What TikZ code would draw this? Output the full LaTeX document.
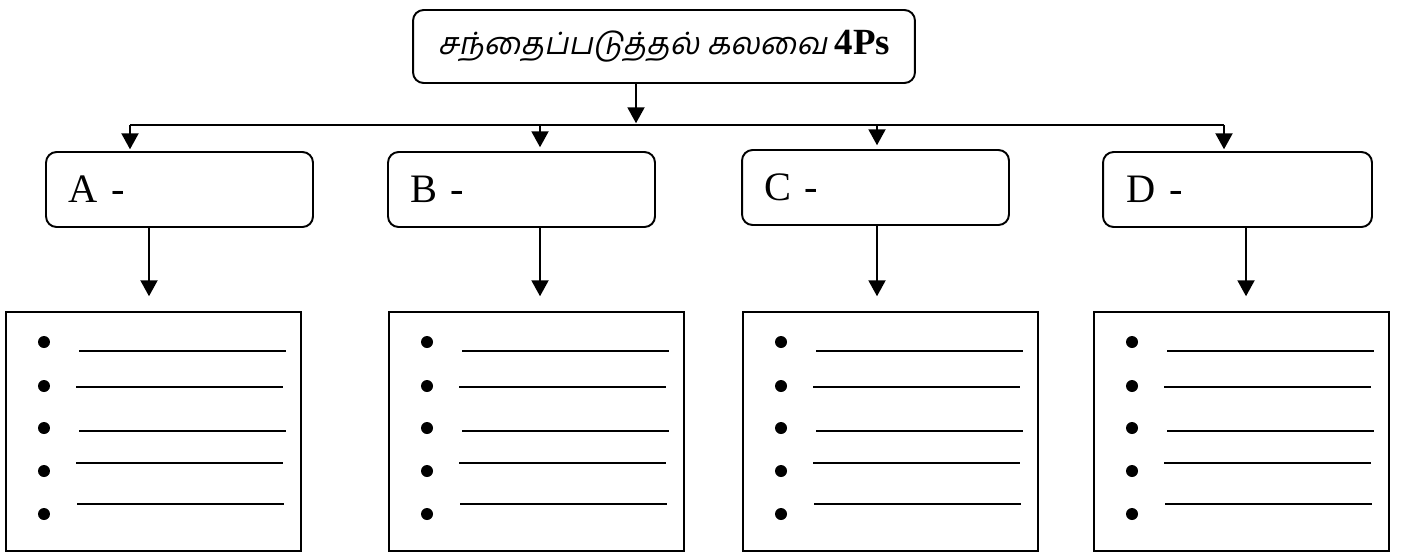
\documentclass[tikz,border=0pt]{standalone}
\usepackage{fontspec}
\setmainfont{Liberation Serif}
\newfontfamily\tamilfont[Script=Tamil,FakeSlant=0.2]{Hind Madurai}
\usetikzlibrary{arrows.meta}
\tikzset{
  headbox/.style={draw, rounded corners=6pt, line width=1.1pt, minimum width=10.04cm, minimum height=1.46cm, font=\fontsize{17.5}{22}\selectfont},
  partbox/.style={draw, rounded corners=6pt, line width=1.1pt, minimum width=5.34cm, minimum height=1.5cm, text width=4.44cm, align=left, font=\fontsize{23}{28}\selectfont},
  listbox/.style={draw, line width=1.1pt, minimum width=5.9cm, minimum height=4.78cm, anchor=north west, inner sep=0pt},
  link/.style={-{Triangle[width=0.34cm,length=0.32cm]}, line width=1.2pt, shorten >=1pt}
}
\begin{document}
\begin{tikzpicture}[x=0.02cm,y=-0.02cm]
\useasboundingbox (0,0) rectangle (1409,552);
\node[headbox]						(mix)	at (664,46.5)	{{\tamilfont சந்தைப்படுத்தல் கலவை} {\fontsize{21}{24}\selectfont\textbf{4Ps}}};
\node[partbox]						(A)		at (179.5,189.5)	{A -};
\node[partbox]						(B)		at (521.5,189.5)	{B -};
\node[partbox]						(C)		at (875.5,187.5)	{C -};
\node[partbox, minimum width=5.38cm]	(D)		at (1237.5,189.5)	{D -};
\coordinate (barL) at (130,125);
\coordinate (barR) at (1224,125);
\coordinate (drop) at (636,125);
\draw[line width=1.1pt] (barL) -- (barR);
\draw[link] (mix.south -| drop) -- (drop);
\draw[link] (barL) -- (A.north -| barL);
\draw[link] (barR) -- (D.north -| barR);
\draw[link] (B.north |- barL) ++(18.5,0) -- ++(0,24);
\draw[link] (C.north |- barL) ++(1.5,0) -- ++(0,22);
% lists under the four parts
\foreach \n/\x/\tx in {A/5/149, B/388/540, C/742/877, D/1093/1246}{
  \node[listbox] (\n list) at (\x,311) {};
  \coordinate (\n in) at (\tx,298);
  \draw[link] (\n.south -| \n in) -- (\n in);
  \foreach \by/\ly/\lx in {31/40/74, 75/76/71, 117/120/74, 160/152/71, 203/193/72}{
    \fill ([shift={(39,\by)}]\n list.north west) circle (0.12cm);
    \draw[line width=1pt] ([shift={(\lx,\ly)}]\n list.north west) -- ++(207,0);
  }
}
\end{tikzpicture}
\end{document}
